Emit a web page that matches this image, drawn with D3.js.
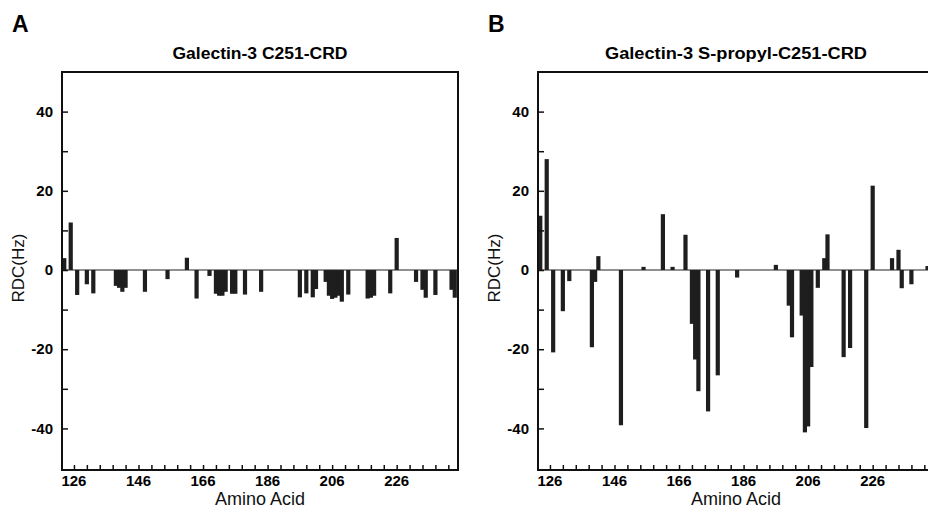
<!DOCTYPE html>
<html>
<head>
<meta charset="utf-8">
<script src="https://cdn.jsdelivr.net/npm/d3@7"></script>
<style>
  html, body { margin: 0; padding: 0; background: #fff; }
  svg { display: block; font-family: "Liberation Sans", Arial, sans-serif; }
</style>
</head>
<body>
<div id="chart"></div>
<script>
// Panel A: Galectin-3 C251-CRD
const residuesA = [123, 125, 127, 130, 132, 139, 140, 141, 142, 148, 155, 161, 164, 168,
  170, 171, 172, 173, 175, 176, 179, 184, 196, 198, 200, 201, 204, 205, 206, 207, 208,
  209, 211, 217, 218, 219, 224, 226, 232, 234, 235, 238, 243, 244]
const rdcA = [3, 12, -6.3, -3.6, -5.9, -4, -4.5, -5.5, -4.5, -5.5, -2.3, 3.1, -7.2, -1.5,
  -6, -6.5, -6.5, -5.5, -6, -6, -6.2, -5.5, -6.9, -5.9, -6.9, -4.8, -3, -6.5, -7.3, -7, -6.5,
  -8, -6.2, -7.2, -7, -6.5, -5.9, 8.1, -3, -5, -7, -6.3, -5, -7]

// Panel B: Galectin-3 S-propyl-C251-CRD
const residuesB = [123, 125, 127, 130, 132, 139, 140, 141, 148, 155, 161, 164, 168,
  170, 171, 172, 175, 178, 184, 196, 200, 201, 204, 205, 206, 207, 209, 211, 212,
  217, 219, 224, 226, 232, 234, 235, 238, 243]
const rdcB = [13.7, 28, -20.8, -10.4, -2.8, -19.5, -3, 3.5, -39.2, 0.8, 14.1, 0.8, 8.9,
  -13.6, -22.6, -30.6, -35.7, -26.6, -1.9, 1.3, -9, -17, -11.5, -41, -39.5, -24.5, -4.5, 3, 9,
  -22, -19.7, -39.9, 21.3, 3, 5.1, -4.6, -3.6, 1]

const yTickLabels = [40, 20, 0, -20, -40]
const xTickLabels = [126, 146, 166, 186, 206, 226]

const width = 928
const height = 514
const plotTop = 72
const plotBottom = 470
const plotWidth = 396

const panels = [
  { letter: "A", title: "Galectin-3 C251-CRD", titleWidth: 175, left: 62, residues: residuesA, values: rdcA },
  { letter: "B", title: "Galectin-3 S-propyl-C251-CRD", titleWidth: 262, left: 538, residues: residuesB, values: rdcB }
]

const svg = d3.select("#chart")
  .append("svg")
  .attr("width", width)
  .attr("height", height)

const y = d3.scaleLinear()
  .domain([-50.5, 50])
  .range([plotBottom, plotTop])

panels.forEach(p => {
  const x = d3.scaleLinear()
    .domain([122.3, 245])
    .range([p.left, p.left + plotWidth])

  const g = svg.append("g")

  // Panel letter
  g.append("text")
    .attr("x", p.left - 50)
    .attr("y", 32)
    .style("font-size", "23px")
    .style("font-weight", "bold")
    .text(p.letter)

  // Title
  g.append("text")
    .attr("x", p.left + plotWidth / 2)
    .attr("y", 59)
    .attr("text-anchor", "middle")
    .attr("textLength", p.titleWidth)
    .attr("lengthAdjust", "spacingAndGlyphs")
    .style("font-size", "16px")
    .style("font-weight", "bold")
    .text(p.title)

  // Bars
  const bw = x(123.65) - x(122.35)
  g.selectAll(".bar")
    .data(p.residues.map((r, i) => ({ r, v: p.values[i] })))
    .enter()
    .append("rect")
    .attr("class", "bar")
    .attr("x", d => x(d.r) - bw / 2)
    .attr("y", d => y(Math.max(0, d.v)))
    .attr("width", bw)
    .attr("height", d => Math.abs(y(d.v) - y(0)))
    .style("fill", "#1e1e1e")

  // Zero line
  g.append("line")
    .attr("x1", p.left)
    .attr("x2", p.left + plotWidth)
    .attr("y1", y(0))
    .attr("y2", y(0))
    .style("stroke", "#222")
    .style("stroke-width", 1.2)

  // Frame
  g.append("rect")
    .attr("x", p.left)
    .attr("y", plotTop)
    .attr("width", plotWidth)
    .attr("height", plotBottom - plotTop)
    .style("fill", "none")
    .style("stroke", "#111")
    .style("stroke-width", 2)

  // Y axis (ticks point inward)
  const yAxis = d3.axisRight(y)
    .tickValues(d3.range(-40, 50, 10))
    .tickSize(6)
    .tickFormat("")
  g.append("g")
    .attr("transform", `translate(${p.left},0)`)
    .call(yAxis)
    .call(a => a.select(".domain").remove())
    .selectAll("line")
    .style("stroke", "#111")
    .style("stroke-width", 1.5)

  g.selectAll(".ylab")
    .data(yTickLabels)
    .enter()
    .append("text")
    .attr("class", "ylab")
    .attr("x", p.left - 9)
    .attr("y", d => y(d))
    .attr("dy", "0.35em")
    .attr("text-anchor", "end")
    .style("font-size", "15px")
    .style("font-weight", "bold")
    .text(d => d)

  // X axis (ticks point inward)
  const xAxis = d3.axisTop(x)
    .tickValues(d3.range(126, 245, 4))
    .tickSize(5)
    .tickFormat("")
  g.append("g")
    .attr("transform", `translate(0,${plotBottom})`)
    .call(xAxis)
    .call(a => a.select(".domain").remove())
    .selectAll("line")
    .style("stroke", "#111")
    .style("stroke-width", 1.5)

  g.selectAll(".xlab")
    .data(xTickLabels)
    .enter()
    .append("text")
    .attr("class", "xlab")
    .attr("x", d => x(d))
    .attr("y", 486)
    .attr("text-anchor", "middle")
    .style("font-size", "15px")
    .style("font-weight", "bold")
    .text(d => d)

  // Axis titles
  g.append("text")
    .attr("x", p.left + plotWidth / 2)
    .attr("y", 505)
    .attr("text-anchor", "middle")
    .style("font-size", "18px")
    .style("fill", "#111")
    .text("Amino Acid")

  g.append("text")
    .attr("transform", `translate(${p.left - 38},${(plotTop + plotBottom) / 2 - 3}) rotate(-90)`)
    .attr("text-anchor", "middle")
    .style("font-size", "17px")
    .style("fill", "#111")
    .text("RDC(Hz)")
})
</script>
</body>
</html>
